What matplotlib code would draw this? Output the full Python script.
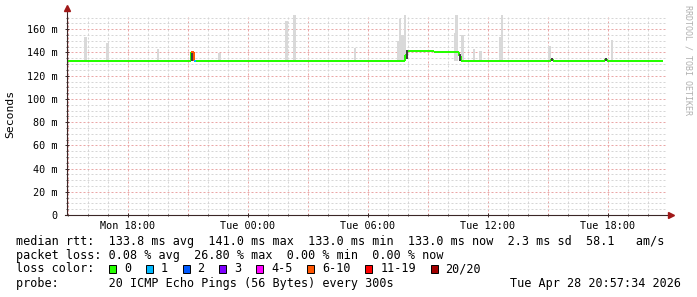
import numpy as np
import matplotlib.pyplot as plt
from matplotlib.patches import Rectangle
from matplotlib.collections import LineCollection

plt.rcParams['font.family'] = ['DejaVu Sans Mono', 'DejaVu Sans']

# Temps en heures depuis lundi 00:00
t_start = 14.959
t_end = 44.959

# Médiane (début de chaque palier, valeur en ms, indice de couleur de perte)
med_t = [14.96, 21.16, 21.31, 21.41, 31.86, 31.96, 33.30, 34.56, 34.66, 39.16, 39.26, 41.88, 41.96]
med_v = [133.0, 140.0, 133.0, 133.0, 137.5, 141.0, 140.6, 137.0, 133.0, 134.5, 133.0, 134.5, 133.0]
med_loss = [0, 5, 1, 0, 0, 0, 0, 0, 0, 0, 0, 0, 0]
med_end = 44.76

# Fumée claire (pics au-dessus de la médiane)
smoke_t = [15.87, 16.97, 19.51, 22.58, 25.92, 26.34, 29.36, 31.51, 31.61, 31.73, 31.86,
           34.37, 34.44, 34.72, 35.31, 35.63, 36.63, 36.70, 39.07, 42.21]
smoke_top = [153.4, 148.0, 143.0, 139.6, 167.0, 173.0, 144.0, 150.0, 169.0, 155.0, 173.0,
             156.5, 173.0, 155.0, 143.0, 141.0, 153.4, 173.0, 146.0, 150.5]
smoke_base = 133.0

# Fumée foncée
dark_t = [21.20, 31.96, 34.61, 39.21, 41.91]
dark_lo = [132.8, 134.5, 133.0, 133.0, 133.0]
dark_hi = [139.4, 142.0, 139.0, 135.0, 135.0]

# Légende
loss_labels = ['0', '1', '2', '3', '4-5', '6-10', '11-19', '20/20']
loss_colors = ['#26ff00', '#00b8ff', '#0059ff', '#7e00ff', '#ff00ff', '#ff5500', '#ff0000', '#a10000']

xtick_pos = [18, 24, 30, 36, 42]
xtick_lab = ['Mon 18:00', 'Tue 00:00', 'Tue 06:00', 'Tue 12:00', 'Tue 18:00']
ytick_pos = [0, 20, 40, 60, 80, 100, 120, 140, 160]
ytick_lab = ['0'] + ['%d m' % v for v in ytick_pos[1:]]

W, H = 697, 297
fig = plt.figure(figsize=(W / 100, H / 100), dpi=100)
fig.patch.set_facecolor('white')
ax = fig.add_axes([67 / W, (H - 215) / H, 600 / W, 200 / H])
ax.set_xlim(t_start, t_end)
ax.set_ylim(0, 172.3)
for s in ax.spines.values():
    s.set_visible(False)

# Grille
minor_c = '#d6d6d6'
major_c = '#eaa6a6'
for h in range(15, 45):
    c = major_c if h % 3 == 0 else minor_c
    ax.axvline(h, color=c, lw=0.72, ls=(0, (2, 2)), zorder=1)
for v in range(5, 175, 5):
    c = major_c if v % 20 == 0 else minor_c
    ax.axhline(v, color=c, lw=0.72, ls=(0, (2, 2)), zorder=1)

# Fumée
ax.bar(smoke_t, np.array(smoke_top) - smoke_base, bottom=smoke_base, width=0.13,
       color='#d9d9d9', zorder=2)

# Médiane en paliers (le raccord vertical garde la couleur du palier précédent)
segs, cols = [], []
ts = med_t + [med_end]
for i in range(len(med_v)):
    prev = med_v[i - 1] if i > 0 else med_v[i]
    pc = loss_colors[med_loss[i - 1]] if i > 0 else loss_colors[med_loss[i]]
    segs.append([(ts[i], prev), (ts[i], med_v[i])])
    cols.append(pc)
    segs.append([(ts[i], med_v[i]), (ts[i + 1], med_v[i])])
    cols.append(loss_colors[med_loss[i]])
ax.add_collection(LineCollection(segs, colors=cols, linewidths=1.44, zorder=3))

ax.bar(dark_t, np.array(dark_hi) - np.array(dark_lo), bottom=dark_lo, width=0.1,
       color='#404040', zorder=4)

# Axes et flèches
axis_c = '#3a2626'
arrow_c = '#a01818'
ax.plot([t_start, t_start], [0, 178], color=axis_c, lw=0.8, clip_on=False, zorder=5)
ax.plot([t_start - 0.1, t_end + 0.15], [0, 0], color=axis_c, lw=0.8, clip_on=False, zorder=5)
ax.plot(t_start, 178.5, marker='^', ms=4, color=arrow_c, clip_on=False, zorder=6)
ax.plot(t_end + 0.2, 0, marker='>', ms=4, color=arrow_c, clip_on=False, zorder=6)

ax.set_xticks(xtick_pos)
ax.set_xticklabels(xtick_lab)
ax.set_xticks(range(15, 45), minor=True)
ax.set_yticks(ytick_pos)
ax.set_yticklabels(ytick_lab)
ax.set_yticks(range(5, 175, 5), minor=True)
ax.tick_params(which='major', length=3, width=0.7, color=axis_c, direction='inout',
               labelsize=7.3, pad=3)
ax.tick_params(which='minor', length=2, width=0.6, color=axis_c, direction='inout')
ax.tick_params(axis='y', pad=5)

fig.text(10.5 / W, 1 - 114 / H, 'Seconds', rotation=90, fontsize=8.2,
         ha='center', va='center')
fig.text(688 / W, 1 - 5 / H, 'RRDTOOL / TOBI OETIKER', rotation=270, fontsize=6,
         color='#b0b0b0', ha='center', va='top')

# Texte de légende
fs = 8.5
rows = [241, 255.5, 269, 283.5]
fig.text(16 / W, 1 - rows[0] / H,
         'median rtt:  133.8 ms avg  141.0 ms max  133.0 ms min  133.0 ms now  2.3 ms sd  58.1   am/s',
         fontsize=fs, va='center')
fig.text(16 / W, 1 - rows[1] / H,
         'packet loss: 0.08 % avg  26.80 % max  0.00 % min  0.00 % now',
         fontsize=fs, va='center')
fig.text(16 / W, 1 - rows[2] / H, 'loss color:', fontsize=fs, va='center')
fig.text(16 / W, 1 - rows[3] / H,
         'probe:       20 ICMP Echo Pings (56 Bytes) every 300s',
         fontsize=fs, va='center')
fig.text(681 / W, 1 - rows[3] / H, 'Tue Apr 28 20:57:34 2026',
         fontsize=fs, va='center', ha='right')

x = 109.0
for lab, col in zip(loss_labels, loss_colors):
    fig.add_artist(Rectangle((x / W, 1 - (rows[2] + 4) / H), 7 / W, 8 / H,
                             facecolor=col, edgecolor='black', lw=0.7,
                             transform=fig.transFigure))
    fig.text((x + 15) / W, 1 - rows[2] / H, lab, fontsize=fs, va='center')
    x += 29.7 + 7.1 * len(lab)

fig.savefig('out.png', dpi=100)
